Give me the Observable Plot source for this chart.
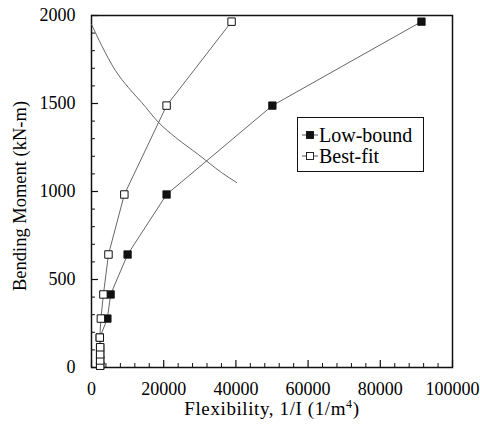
<!DOCTYPE html>
<html><head><meta charset="utf-8">
<script src="https://cdn.jsdelivr.net/npm/d3@7"></script>
<script src="https://cdn.jsdelivr.net/npm/@observablehq/plot@0.6"></script>
<style>
body{margin:0;background:#fff;}
#wrap{position:relative;width:480px;height:429px;font-family:'Liberation Serif','Times New Roman','DejaVu Serif',serif;color:#000;}
#wrap svg text{font-family:'Liberation Serif','Times New Roman','DejaVu Serif',serif;}
#legend{position:absolute;left:297px;top:117px;width:127px;height:55px;border:1.5px solid #111;box-sizing:border-box;background:#fff;font-size:20px;line-height:20px;padding-top:6px;}
#legend .row{display:flex;align-items:center;height:21px;}
#legend svg{margin-left:4px;margin-right:1px;}
</style></head>
<body><div id="wrap"><div id="legend"></div></div>
<script>
const moments = [10, 40, 75, 115, 170, 278, 415, 642, 983, 1488, 1965];
const lowBoundFlex = [2400, 2400, 2400, 2400, 2300, 4400, 5300, 10000, 20800, 50100, 91400];
const bestFitFlex = [2400, 2400, 2400, 2400, 2300, 2600, 3300, 4700, 9100, 20800, 38800];
const curveFlex = [0, 2800, 6600, 10200, 13900, 18600, 23300, 29600, 36000, 40200];
const curveMoment = [1950, 1830, 1688, 1591, 1506, 1392, 1307, 1210, 1108, 1051];
const xTicks = [0, 20000, 40000, 60000, 80000, 100000];
const yTicks = [0, 500, 1000, 1500, 2000];
const seriesNames = ["Low-bound", "Best-fit"];

const low = moments.map((m, i) => ({x: lowBoundFlex[i], y: m}));
const best = moments.map((m, i) => ({x: bestFitFlex[i], y: m}));
const curve = curveFlex.map((f, i) => ({x: f, y: curveMoment[i]}));
const xMinor = d3.range(0, 100001, 4000).filter(v => !xTicks.includes(v));
const yMinor = d3.range(0, 2001, 100).filter(v => !yTicks.includes(v));

const plot = Plot.plot({
  width: 480, height: 429,
  marginLeft: 91, marginRight: 28, marginTop: 15, marginBottom: 62,
  style: {fontSize: "18px", color: "#000", background: "#fff"},
  x: {domain: [0, 100000]},
  y: {domain: [0, 2000]},
  marks: [
    Plot.frame({stroke: "#111", strokeWidth: 1.5}),
    Plot.axisX(xTicks, {tickSize: -7, tickPadding: 22, tickFormat: d => String(d), stroke: "#111", strokeWidth: 1.2, label: null, fontSize: 18}),
    Plot.axisX(xMinor, {tickSize: -4, tickFormat: () => "", stroke: "#111", label: null}),
    Plot.axisY(yTicks, {tickSize: -7, tickPadding: 23, tickFormat: d => String(d), stroke: "#111", strokeWidth: 1.2, label: null, fontSize: 18}),
    Plot.axisY(yMinor, {tickSize: -4, tickFormat: () => "", stroke: "#111", label: null}),
    Plot.line(curve, {x: "x", y: "y", curve: "monotone-x", stroke: "#555", strokeWidth: 0.9}),
    Plot.line(low, {x: "x", y: "y", stroke: "#555", strokeWidth: 0.9}),
    Plot.line(best, {x: "x", y: "y", stroke: "#555", strokeWidth: 0.9}),
    Plot.dot(low, {x: "x", y: "y", symbol: "square", r: 4.2, fill: "#111", stroke: "#111", strokeWidth: 0.8}),
    Plot.dot(best, {x: "x", y: "y", symbol: "square", r: 4.2, fill: "#fff", stroke: "#111", strokeWidth: 1})
  ]
});
const wrap = document.getElementById("wrap");
wrap.insertBefore(plot, wrap.firstChild);
plot.style.position = "absolute"; plot.style.left = "0"; plot.style.top = "0";

// axis titles
const svg = d3.select(plot);
svg.append("text").attr("x", 272).attr("y", 415).attr("text-anchor", "middle")
  .attr("font-size", 19).attr("fill", "#000").attr("letter-spacing", "0.6px")
  .html('Flexibility, 1/I (1/m<tspan dy="-7" font-size="12">4</tspan><tspan dy="7">)</tspan>');
svg.append("text").attr("transform", "translate(26,196) rotate(-90)").attr("text-anchor", "middle")
  .attr("font-size", 18.5).attr("fill", "#000").text("Bending Moment (kN-m)");

// legend
const lg = d3.select("#legend");
seriesNames.forEach((name, i) => {
  const row = lg.append("div").attr("class", "row");
  const s = row.append("svg").attr("width", 16).attr("height", 12);
  s.append("line").attr("x1", 0).attr("x2", 16).attr("y1", 6).attr("y2", 6).attr("stroke", "#555").attr("stroke-width", 1);
  s.append("rect").attr("x", 4.5).attr("y", 2.5).attr("width", 7).attr("height", 7)
    .attr("fill", i === 0 ? "#111" : "#fff").attr("stroke", "#111").attr("stroke-width", 0.9);
  row.append("span").text(name);
});
</script>
</body></html>
